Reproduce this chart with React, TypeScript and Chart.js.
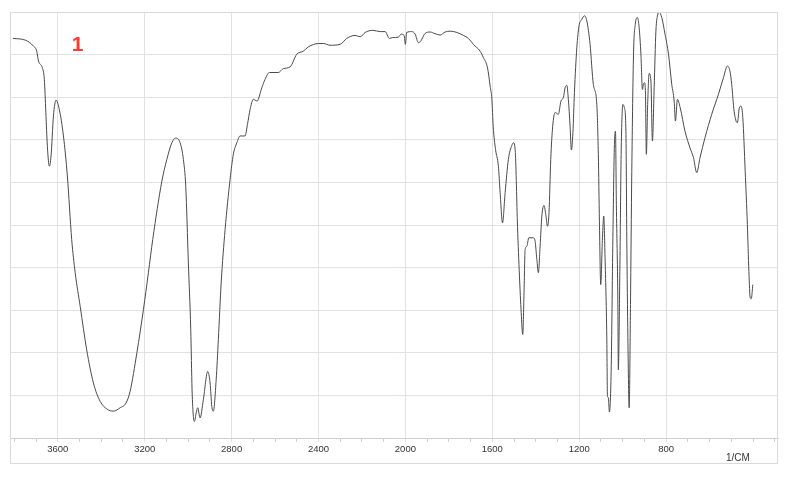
import React, { useEffect, useRef } from "react";
import { Chart, registerables } from "chart.js";

Chart.register(...registerables);

// Wavenumbers (1/cm) and transmittance (%)
const wavenumbers = [
  3806, 3750, 3712, 3697, 3689, 3671, 3662, 3655, 3648, 3639, 3631, 3620, 3608, 3593, 3574, 3556,
  3536, 3520, 3497, 3467, 3436, 3405, 3374, 3344, 3313, 3286, 3267, 3236, 3206, 3183, 3163,
  3121, 3098, 3075, 3058, 3037, 3022, 3011, 2999, 2988, 2982, 2976, 2971, 2963, 2956, 2945, 2930,
  2910, 2899, 2891, 2884, 2871, 2861, 2848, 2830, 2807, 2792, 2776, 2761, 2738, 2727, 2715, 2700,
  2683, 2661, 2646, 2626, 2585, 2562, 2531, 2500, 2470, 2447, 2400, 2377, 2347, 2301, 2270, 2232,
  2208, 2185, 2150, 2116, 2093, 2074, 2058, 2032, 2020, 2006, 2000, 1994, 1971, 1955, 1940, 1929,
  1909, 1886, 1863, 1840, 1817, 1794, 1763, 1733, 1710, 1687, 1656, 1641, 1622, 1610, 1602, 1596,
  1585, 1572, 1564, 1553, 1541, 1526, 1510, 1502, 1494, 1484, 1475, 1467, 1460, 1454, 1449, 1441,
  1432, 1411, 1403, 1395, 1388, 1380, 1372, 1362, 1353, 1346, 1339, 1331, 1322, 1311, 1296, 1284,
  1273, 1265, 1257, 1250, 1242, 1236, 1229, 1222, 1211, 1201, 1188, 1176, 1165, 1150, 1135, 1119,
  1112, 1107, 1101, 1093, 1087, 1081, 1073, 1070, 1066, 1061, 1053, 1045, 1038, 1033, 1029, 1022,
  1020, 1013, 1007, 999, 992, 985, 981, 976, 970, 964, 958, 950, 942, 932, 924, 916,
  909, 904, 899, 895, 891, 885, 878, 870, 863, 855, 847, 838, 832, 820, 805, 789,
  774, 763, 757, 748, 735, 713, 690, 674, 659, 644, 621, 590, 559, 536, 518, 506,
  498, 487, 472, 463, 455, 447, 436, 426, 419, 413, 408, 401,
];

const transmittance = [
  93.8, 93.4, 92.0, 90.8, 88.5, 86.9, 84.2, 76.4, 68.5, 63.8, 66.2, 75.6, 79.3, 77.1, 70.9, 61.5,
  46.6, 38.8, 30.9, 20.7, 12.9, 8.6, 6.8, 6.3, 7.1, 8.2, 11.0, 20.0, 30.1, 38.8, 46.6,
  60.3, 65.4, 69.3, 70.4, 69.3, 65.4, 59.0, 41.1, 25.4, 11.3, 5.1, 3.9, 5.9, 7.1, 4.7, 9.0,
  15.6, 12.9, 7.4, 6.3, 13.7, 23.1, 36.4, 48.9, 60.7, 66.6, 69.3, 70.9, 70.9, 73.6, 77.1, 79.5,
  79.1, 82.2, 84.2, 85.8, 85.8, 86.7, 87.1, 90.1, 90.8, 91.8, 92.6, 92.6, 92.2, 92.4, 93.8, 94.5,
  94.2, 95.2, 95.7, 95.4, 95.4, 93.8, 94.0, 94.1, 94.8, 94.5, 92.4, 95.2, 95.4, 94.8, 92.8, 93.2,
  95.0, 95.3, 94.9, 94.6, 95.3, 95.5, 95.2, 94.5, 93.8, 92.4, 90.8, 89.3, 86.9, 82.6, 79.5, 73.2,
  67.7, 63.8, 57.6, 50.5, 57.6, 65.4, 68.7, 69.3, 67.0, 49.7, 38.0, 29.4, 24.3, 34.1, 44.2, 45.0,
  47.0, 47.0, 46.2, 41.9, 38.8, 45.0, 52.1, 54.6, 52.1, 49.7, 52.9, 65.4, 73.2, 76.4, 76.0, 79.1,
  79.9, 82.2, 82.8, 79.5, 73.2, 67.6, 71.7, 81.1, 91.6, 96.7, 98.3, 99.1, 97.9, 92.4, 83.0, 78.3,
  66.6, 50.9, 36.0, 47.0, 52.1, 42.3, 23.5, 9.8, 9.5, 6.1, 15.6, 47.0, 68.9, 72.0, 54.8, 31.3,
  16.0, 39.1, 66.6, 78.3, 77.5, 72.0, 47.0, 23.5, 7.1, 31.3, 62.6, 90.1, 97.1, 98.7, 96.3, 90.1,
  81.8, 83.2, 83.4, 80.7, 66.6, 78.3, 85.6, 83.8, 69.7, 82.2, 95.5, 99.5, 100.0, 98.7, 94.8, 90.1,
  83.0, 79.1, 74.4, 79.5, 77.5, 72.0, 68.1, 65.8, 62.3, 65.8, 70.5, 76.0, 80.7, 84.6, 87.3, 86.1,
  83.0, 76.7, 74.0, 77.5, 77.9, 75.2, 62.6, 50.1, 39.1, 32.9, 32.7, 36.0,
];

const xTickLabels = [3600, 3200, 2800, 2400, 2000, 1600, 1200, 800];
const axisUnit = "1/CM";
const sampleLabel = "1";

const FONT = '"Liberation Sans", Arial, Helvetica, sans-serif';
const GRID = "#e2e2e2";

const framePlugin = {
  id: "frame",
  afterDraw(chart: any) {
    const { ctx, chartArea } = chart;
    const xs = chart.scales.x;
    ctx.save();
    ctx.strokeStyle = "#dadada";
    ctx.lineWidth = 1;
    const l = Math.round(chartArea.left) + 0.5;
    const t = Math.round(chartArea.top) + 0.5;
    const r = Math.round(chartArea.right) - 0.5;
    const b = Math.round(xs.bottom) + 0.5;
    ctx.strokeRect(l, t, r - l, b - t);
    // axis unit
    ctx.fillStyle = "#333";
    ctx.font = `10px ${FONT}`;
    ctx.textAlign = "left";
    ctx.textBaseline = "alphabetic";
    ctx.fillText(axisUnit, 726, 461);
    // sample label
    ctx.fillStyle = "#ff3b30";
    ctx.font = `bold 21px ${FONT}`;
    ctx.textAlign = "center";
    ctx.fillText(sampleLabel, 77.5, 50.5);
    ctx.restore();
  },
};

export default function App() {
  const ref = useRef<HTMLCanvasElement | null>(null);
  useEffect(() => {
    if (!ref.current) return;
    const points = wavenumbers.map((w, i) => ({ x: w, y: transmittance[i] }));
    const chart = new Chart(ref.current, {
      type: "line",
      data: {
        datasets: [
          {
            data: points,
            borderColor: "#4a4a4a",
            borderWidth: 1,
            pointRadius: 0,
            fill: false,
            cubicInterpolationMode: "monotone",
          },
        ],
      },
      options: {
        animation: false,
        responsive: false,
        devicePixelRatio: 1,
        layout: { padding: { left: 10, top: 12, right: 8, bottom: 19 } },
        plugins: { legend: { display: false }, tooltip: { enabled: false } },
        scales: {
          x: {
            type: "linear",
            reverse: true,
            min: 285,
            max: 3820,
            afterBuildTicks: (scale: any) => {
              const t = [];
              for (let v = 300; v <= 3800; v += 100) t.push({ value: v });
              scale.ticks = t;
            },
            afterFit: (scale: any) => {
              scale.height = 25;
            },
            ticks: {
              autoSkip: false,
              maxRotation: 0,
              padding: 2,
              color: "#333",
              font: { family: FONT, size: 9.5 },
              callback: (v: any) => (xTickLabels.includes(Number(v)) ? String(v) : ""),
            },
            grid: {
              color: (c: any) =>
                c.tick && xTickLabels.includes(c.tick.value) ? GRID : "rgba(0,0,0,0)",
              tickColor: (c: any) =>
                c.tick && xTickLabels.includes(c.tick.value) ? GRID : "#cfcfcf",
              tickLength: 4,
              drawTicks: true,
            },
            border: { color: "#cfcfcf" },
          },
          y: {
            min: 0,
            max: 100,
            ticks: { display: false, stepSize: 10 },
            grid: { color: GRID, drawTicks: false },
            border: { color: "#cfcfcf" },
            afterFit: (scale: any) => {
              scale.width = 0;
            },
          },
        },
      },
      plugins: [framePlugin],
    });
    return () => chart.destroy();
  }, []);
  return (
    <div style={{ position: "absolute", left: 0, top: 0, width: 786, height: 482, background: "#fff" }}>
      <canvas ref={ref} width={786} height={482} />
    </div>
  );
}
